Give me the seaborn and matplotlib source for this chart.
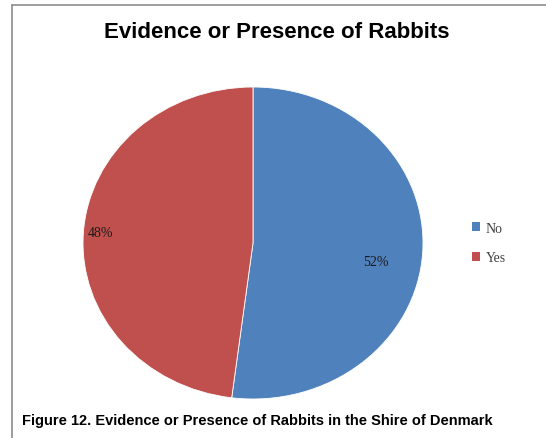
import matplotlib.pyplot as plt
import seaborn as sns
from matplotlib.lines import Line2D
from matplotlib.patches import Patch

# Data
categories = ["No", "Yes"]
shares = [52, 48]
colors = ["#4F81BD", "#C0504D"]

sns.set_theme(style="white")
plt.rcParams['font.family'] = ['Liberation Sans', 'DejaVu Sans']

fig = plt.figure(figsize=(5.46, 4.39), dpi=100)
W, H = 546, 439

# chart frame (gray border, left and top visible)
fig.add_artist(Line2D([12 / W, 12 / W], [0, 1 - 6 / H], color="#8c8c8c", lw=1.2))
fig.add_artist(Line2D([12 / W, 1], [1 - 6 / H, 1 - 6 / H], color="#8c8c8c", lw=1.2))

# pie axes placed on the ellipse bounding box
left, right, top, bottom = 83, 423, 88, 400
ax = fig.add_axes([left / W, 1 - bottom / H, (right - left) / W, (bottom - top) / H])
wedges, texts, autotexts = ax.pie(
    shares, colors=colors, startangle=90, counterclock=False,
    autopct='%1.0f%%', pctdistance=0.72, radius=1,
    wedgeprops=dict(edgecolor="white", linewidth=0.6),
    textprops=dict(family=['Liberation Serif', 'DejaVu Serif'], fontsize=10, color="#1a1a1a"))
ax.set_aspect('auto')
ax.set_xlim(-1, 1)
ax.set_ylim(-1, 1)
ax.axis('off')

# label placement as in the original (Excel best fit)
label_pos = [(0.72, -0.12), (-0.9, 0.07)]
for t, p in zip(autotexts, label_pos):
    t.set_position(p)

# legend
handles = [Patch(facecolor=c, edgecolor="none") for c in colors]
fig.legend(handles, categories, loc="center left", bbox_to_anchor=(459 / W, 1 - 244 / H),
           frameon=False, handlelength=0.6, handleheight=0.6, handletextpad=0.4,
           labelspacing=1.2, prop=dict(family=['Liberation Serif', 'DejaVu Serif'], size=10),
           labelcolor="#404040")

# title and caption
fig.text(277 / W, 1 - 33 / H, "Evidence or Presence of Rabbits", ha="center", va="center",
         fontsize=16, fontweight="bold", color="black")
fig.text(22 / W, 1 - 421 / H, "Figure 12. Evidence or Presence of Rabbits in the Shire of Denmark",
         ha="left", va="center", fontsize=10.55, fontweight="bold", color="black")

fig.savefig("out.png", dpi=100)
